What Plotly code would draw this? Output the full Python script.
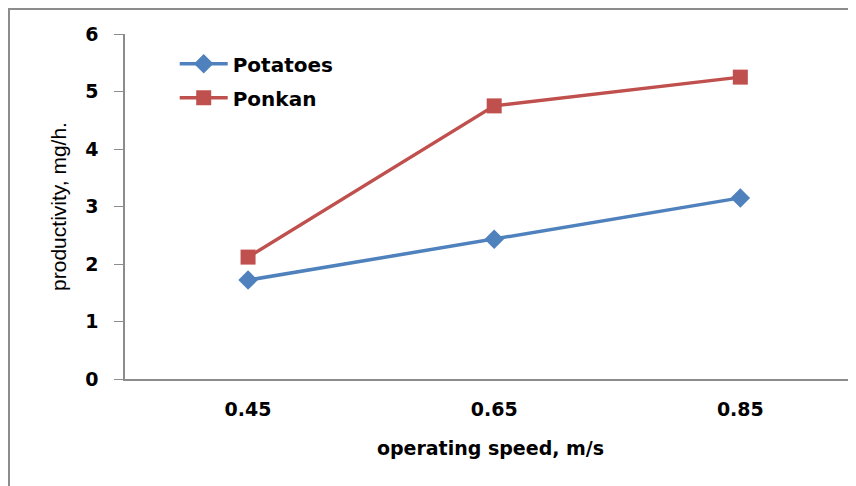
import plotly.graph_objects as go

speeds = ["0.45", "0.65", "0.85"]
potatoes = [1.72, 2.43, 3.15]
ponkan = [2.12, 4.75, 5.25]

# page body has an 8px margin, so the figure is shrunk and shifted to match
W, H = 848, 478
L, R, T, B = 117, 0, 26, 107
pw = W - L - R
ph = H - T - B

bold_font = "DejaVu Sans, Verdana, sans-serif"

fig = go.Figure()
fig.add_trace(go.Scatter(
    x=speeds, y=potatoes, name="Potatoes", mode="lines+markers", legendgroup="potatoes",
    line=dict(color="#4F81BD", width=3.5),
    marker=dict(symbol="diamond", size=15, color="#4F81BD"),
))
fig.add_trace(go.Scatter(
    x=speeds, y=ponkan, name="Ponkan", mode="lines+markers", legendgroup="ponkan",
    line=dict(color="#C0504D", width=3.5),
    marker=dict(symbol="square", size=15, color="#C0504D"),
))

# outer chart border, cut off at right/bottom like the source
fig.add_shape(type="rect", xref="paper", yref="paper",
              x0=(1 - L) / pw, x1=(W + 20 - L) / pw,
              y0=-(H + 20 - T - ph) / ph, y1=(ph + T - 1) / ph,
              line=dict(color="#8c8c8c", width=2), layer="below")

fig.update_layout(
    width=W, height=H,
    margin=dict(l=L, r=R, t=T, b=B, pad=0),
    plot_bgcolor="white", paper_bgcolor="white",
    font=dict(family=bold_font, color="black"),
    showlegend=True,
    legend=dict(
        x=0.068, y=0.97, xanchor="left", yanchor="top",
        font=dict(size=20, family=bold_font, weight="bold"),
        bgcolor="rgba(0,0,0,0)", tracegroupgap=5, itemwidth=48,
    ),
)
fig.update_xaxes(
    type="category", range=[-0.5, 2.47],
    showline=True, linecolor="#8c8c8c", linewidth=1.5,
    showgrid=False, ticks="", zeroline=False,
    tickfont=dict(size=19, weight="bold"),
    ticklabelstandoff=12,
    title=dict(text="operating speed, m/s", font=dict(size=19, weight="bold"), standoff=23),
)
fig.update_yaxes(
    range=[0, 6], dtick=1,
    showline=True, linecolor="#8c8c8c", linewidth=1.5,
    showgrid=False, ticks="outside", ticklen=9, tickcolor="#8c8c8c",
    zeroline=False,
    tickfont=dict(size=19, weight="bold"),
    ticklabelstandoff=12,
    title=dict(text="productivity, mg/h.",
               font=dict(size=21, family="Liberation Sans Narrow, Arial Narrow, Liberation Sans, sans-serif"),
               standoff=13),
)

fig.write_html("out.html")
